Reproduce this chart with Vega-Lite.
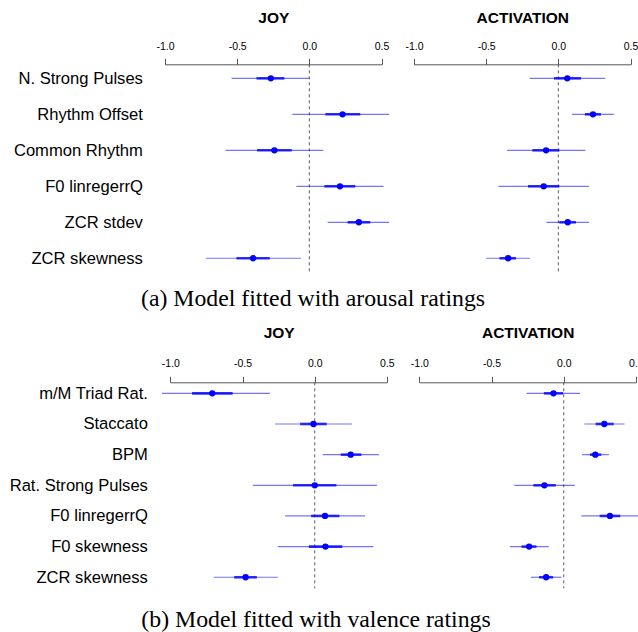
{
  "$schema": "https://vega.github.io/schema/vega-lite/v6.json",
  "padding": {"left": 9, "top": 10.3, "right": 0, "bottom": 0},
  "columns": 2,
  "bounds": "flush",
  "align": "all",
  "spacing": {"row": 110, "column": 5},
  "resolve": {"scale": {"x": "independent", "y": "independent"}},
  "datasets": {
    "joy_a": [
      {"var": "N. Strong Pulses", "est": -0.267, "lo1": -0.366, "hi1": -0.173, "lo2": -0.539, "hi2": 0.0},
      {"var": "Rhythm Offset", "est": 0.230, "lo1": 0.111, "hi1": 0.353, "lo2": -0.118, "hi2": 0.553},
      {"var": "Common Rhythm", "est": -0.242, "lo1": -0.362, "hi1": -0.122, "lo2": -0.581, "hi2": 0.097},
      {"var": "F0 linregerrQ", "est": 0.212, "lo1": 0.104, "hi1": 0.318, "lo2": -0.090, "hi2": 0.514},
      {"var": "ZCR stdev", "est": 0.343, "lo1": 0.265, "hi1": 0.422, "lo2": 0.127, "hi2": 0.553},
      {"var": "ZCR skewness", "est": -0.389, "lo1": -0.505, "hi1": -0.274, "lo2": -0.717, "hi2": -0.058}
    ],
    "act_a": [
      {"var": "N. Strong Pulses", "est": 0.062, "lo1": -0.030, "hi1": 0.157, "lo2": -0.198, "hi2": 0.325},
      {"var": "Rhythm Offset", "est": 0.240, "lo1": 0.184, "hi1": 0.295, "lo2": 0.094, "hi2": 0.385},
      {"var": "Common Rhythm", "est": -0.085, "lo1": -0.180, "hi1": 0.007, "lo2": -0.355, "hi2": 0.187},
      {"var": "F0 linregerrQ", "est": -0.101, "lo1": -0.210, "hi1": 0.007, "lo2": -0.415, "hi2": 0.212},
      {"var": "ZCR stdev", "est": 0.065, "lo1": 0.007, "hi1": 0.122, "lo2": -0.083, "hi2": 0.212},
      {"var": "ZCR skewness", "est": -0.348, "lo1": -0.408, "hi1": -0.293, "lo2": -0.500, "hi2": -0.198}
    ],
    "joy_b": [
      {"var": "m/M Triad Rat.", "est": -0.710, "lo1": -0.850, "hi1": -0.569, "lo2": -1.058, "hi2": -0.311},
      {"var": "Staccato", "est": -0.009, "lo1": -0.101, "hi1": 0.083, "lo2": -0.274, "hi2": 0.258},
      {"var": "BPM", "est": 0.249, "lo1": 0.180, "hi1": 0.323, "lo2": 0.055, "hi2": 0.445},
      {"var": "Rat. Strong Pulses", "est": 0.0, "lo1": -0.150, "hi1": 0.150, "lo2": -0.429, "hi2": 0.431},
      {"var": "F0 linregerrQ", "est": 0.071, "lo1": -0.025, "hi1": 0.171, "lo2": -0.205, "hi2": 0.348},
      {"var": "F0 skewness", "est": 0.074, "lo1": -0.041, "hi1": 0.191, "lo2": -0.256, "hi2": 0.406},
      {"var": "ZCR skewness", "est": -0.479, "lo1": -0.558, "hi1": -0.401, "lo2": -0.700, "hi2": -0.256}
    ],
    "act_b": [
      {"var": "m/M Triad Rat.", "est": -0.071, "lo1": -0.138, "hi1": -0.005, "lo2": -0.258, "hi2": 0.113},
      {"var": "Staccato", "est": 0.281, "lo1": 0.221, "hi1": 0.346, "lo2": 0.143, "hi2": 0.422},
      {"var": "BPM", "est": 0.219, "lo1": 0.182, "hi1": 0.260, "lo2": 0.127, "hi2": 0.313},
      {"var": "Rat. Strong Pulses", "est": -0.134, "lo1": -0.210, "hi1": -0.055, "lo2": -0.343, "hi2": 0.076},
      {"var": "F0 linregerrQ", "est": 0.320, "lo1": 0.249, "hi1": 0.392, "lo2": 0.122, "hi2": 0.520},
      {"var": "F0 skewness", "est": -0.240, "lo1": -0.293, "hi1": -0.189, "lo2": -0.373, "hi2": -0.104},
      {"var": "ZCR skewness", "est": -0.122, "lo1": -0.171, "hi1": -0.074, "lo2": -0.228, "hi2": -0.016}
    ]
  },
  "concat": [
    {
      "width": 244, "height": 208,
      "title": {"text": "(a) Model fitted with arousal ratings", "orient": "bottom", "anchor": "middle", "frame": "group", "dx": 41, "offset": 14, "font": "Liberation Serif", "fontSize": 23.8, "fontWeight": "normal", "color": "black"},
      "layer": [
        {
          "data": {"values": [{"zero": 0}]},
          "mark": {"type": "rule", "color": "#5a5a5a", "strokeDash": [3, 3], "strokeWidth": 1},
          "encoding": {"x": {"field": "zero", "type": "quantitative"}}
        },
        {
          "data": {"name": "joy_a"},
          "mark": {"type": "rule", "color": "#0000ff", "strokeWidth": 1.2, "opacity": 0.55},
          "encoding": {
            "x": {"field": "lo2", "type": "quantitative", "scale": {"domain": [-1, 0.5], "range": [15, 231.5], "nice": false, "zero": false},
              "axis": {"orient": "top", "values": [-1, -0.5, 0, 0.5], "labelExpr": "datum.value < 0 ? '-' + format(-datum.value, '.1f') : format(datum.value, '.1f')", "title": "JOY", "titleFont": "Liberation Sans", "titleFontSize": 15.5, "titleFontWeight": "bold", "titleColor": "black", "titlePadding": 15.7, "labelFont": "Liberation Sans", "labelFontSize": 10.5, "labelColor": "black", "labelPadding": 7, "tickSize": 6, "tickColor": "#555555", "domainColor": "#555555", "grid": false, "labelFlush": false, "labelOverlap": false}},
            "x2": {"field": "hi2"},
            "y": {"field": "var", "type": "nominal", "sort": null, "scale": {"type": "point", "padding": 0.39},
              "axis": {"title": null, "domain": false, "ticks": false, "tickSize": 0, "labelPadding": 7.6, "labelFont": "Liberation Sans", "labelFontSize": 16.6, "labelColor": "black", "grid": false}}
          }
        },
        {
          "data": {"name": "joy_a"},
          "mark": {"type": "rule", "color": "#0000ff", "strokeWidth": 2.6, "opacity": 0.8},
          "encoding": {"x": {"field": "lo1", "type": "quantitative"}, "x2": {"field": "hi1"}, "y": {"field": "var", "type": "nominal", "sort": null}}
        },
        {
          "data": {"name": "joy_a"},
          "mark": {"type": "point", "filled": true, "color": "#0000ff", "opacity": 1, "size": 40},
          "encoding": {"x": {"field": "est", "type": "quantitative"}, "y": {"field": "var", "type": "nominal", "sort": null}}
        }
      ]
    },
    {
      "width": 244, "height": 208,
      "layer": [
        {
          "data": {"values": [{"zero": 0}]},
          "mark": {"type": "rule", "color": "#5a5a5a", "strokeDash": [3, 3], "strokeWidth": 1},
          "encoding": {"x": {"field": "zero", "type": "quantitative"}}
        },
        {
          "data": {"name": "act_a"},
          "mark": {"type": "rule", "color": "#0000ff", "strokeWidth": 1.2, "opacity": 0.55},
          "encoding": {
            "x": {"field": "lo2", "type": "quantitative", "scale": {"domain": [-1, 0.5], "range": [15, 231.5], "nice": false, "zero": false},
              "axis": {"orient": "top", "values": [-1, -0.5, 0, 0.5], "labelExpr": "datum.value < 0 ? '-' + format(-datum.value, '.1f') : format(datum.value, '.1f')", "title": "ACTIVATION", "titleFont": "Liberation Sans", "titleFontSize": 15.5, "titleFontWeight": "bold", "titleColor": "black", "titlePadding": 15.7, "labelFont": "Liberation Sans", "labelFontSize": 10.5, "labelColor": "black", "labelPadding": 7, "tickSize": 6, "tickColor": "#555555", "domainColor": "#555555", "grid": false, "labelFlush": false, "labelOverlap": false}},
            "x2": {"field": "hi2"},
            "y": {"field": "var", "type": "nominal", "sort": null, "scale": {"type": "point", "padding": 0.39}, "axis": null}
          }
        },
        {
          "data": {"name": "act_a"},
          "mark": {"type": "rule", "color": "#0000ff", "strokeWidth": 2.6, "opacity": 0.8},
          "encoding": {"x": {"field": "lo1", "type": "quantitative"}, "x2": {"field": "hi1"}, "y": {"field": "var", "type": "nominal", "sort": null}}
        },
        {
          "data": {"name": "act_a"},
          "mark": {"type": "point", "filled": true, "color": "#0000ff", "opacity": 1, "size": 40},
          "encoding": {"x": {"field": "est", "type": "quantitative"}, "y": {"field": "var", "type": "nominal", "sort": null}}
        }
      ]
    },
    {
      "width": 244, "height": 206,
      "title": {"text": "(b) Model fitted with valence ratings", "orient": "bottom", "anchor": "middle", "frame": "group", "dx": 44, "offset": 19, "font": "Liberation Serif", "fontSize": 23.8, "fontWeight": "normal", "color": "black"},
      "layer": [
        {
          "data": {"values": [{"zero": 0}]},
          "mark": {"type": "rule", "color": "#5a5a5a", "strokeDash": [3, 3], "strokeWidth": 1},
          "encoding": {"x": {"field": "zero", "type": "quantitative"}}
        },
        {
          "data": {"name": "joy_b"},
          "mark": {"type": "rule", "color": "#0000ff", "strokeWidth": 1.2, "opacity": 0.55},
          "encoding": {
            "x": {"field": "lo2", "type": "quantitative", "scale": {"domain": [-1, 0.5], "range": [20.4, 236.9], "nice": false, "zero": false},
              "axis": {"orient": "top", "values": [-1, -0.5, 0, 0.5], "labelExpr": "datum.value < 0 ? '-' + format(-datum.value, '.1f') : format(datum.value, '.1f')", "title": "JOY", "titleFont": "Liberation Sans", "titleFontSize": 15.5, "titleFontWeight": "bold", "titleColor": "black", "titlePadding": 17.4, "labelFont": "Liberation Sans", "labelFontSize": 10.5, "labelColor": "black", "labelPadding": 8, "tickSize": 6, "tickColor": "#555555", "domainColor": "#555555", "grid": false, "labelFlush": false, "labelOverlap": false}},
            "x2": {"field": "hi2"},
            "y": {"field": "var", "type": "nominal", "sort": null, "scale": {"type": "point", "padding": 0.36},
              "axis": {"title": null, "domain": false, "ticks": false, "tickSize": 0, "labelPadding": 2.6, "labelFont": "Liberation Sans", "labelFontSize": 16.6, "labelColor": "black", "grid": false}}
          }
        },
        {
          "data": {"name": "joy_b"},
          "mark": {"type": "rule", "color": "#0000ff", "strokeWidth": 2.6, "opacity": 0.8},
          "encoding": {"x": {"field": "lo1", "type": "quantitative"}, "x2": {"field": "hi1"}, "y": {"field": "var", "type": "nominal", "sort": null}}
        },
        {
          "data": {"name": "joy_b"},
          "mark": {"type": "point", "filled": true, "color": "#0000ff", "opacity": 1, "size": 40},
          "encoding": {"x": {"field": "est", "type": "quantitative"}, "y": {"field": "var", "type": "nominal", "sort": null}}
        }
      ]
    },
    {
      "width": 244, "height": 206,
      "layer": [
        {
          "data": {"values": [{"zero": 0}]},
          "mark": {"type": "rule", "color": "#5a5a5a", "strokeDash": [3, 3], "strokeWidth": 1},
          "encoding": {"x": {"field": "zero", "type": "quantitative"}}
        },
        {
          "data": {"name": "act_b"},
          "mark": {"type": "rule", "color": "#0000ff", "strokeWidth": 1.2, "opacity": 0.55},
          "encoding": {
            "x": {"field": "lo2", "type": "quantitative", "scale": {"domain": [-1, 0.5], "range": [20.4, 236.9], "nice": false, "zero": false},
              "axis": {"orient": "top", "values": [-1, -0.5, 0, 0.5], "labelExpr": "datum.value < 0 ? '-' + format(-datum.value, '.1f') : format(datum.value, '.1f')", "title": "ACTIVATION", "titleFont": "Liberation Sans", "titleFontSize": 15.5, "titleFontWeight": "bold", "titleColor": "black", "titlePadding": 17.4, "labelFont": "Liberation Sans", "labelFontSize": 10.5, "labelColor": "black", "labelPadding": 8, "tickSize": 6, "tickColor": "#555555", "domainColor": "#555555", "grid": false, "labelFlush": false, "labelOverlap": false}},
            "x2": {"field": "hi2"},
            "y": {"field": "var", "type": "nominal", "sort": null, "scale": {"type": "point", "padding": 0.36}, "axis": null}
          }
        },
        {
          "data": {"name": "act_b"},
          "mark": {"type": "rule", "color": "#0000ff", "strokeWidth": 2.6, "opacity": 0.8},
          "encoding": {"x": {"field": "lo1", "type": "quantitative"}, "x2": {"field": "hi1"}, "y": {"field": "var", "type": "nominal", "sort": null}}
        },
        {
          "data": {"name": "act_b"},
          "mark": {"type": "point", "filled": true, "color": "#0000ff", "opacity": 1, "size": 40},
          "encoding": {"x": {"field": "est", "type": "quantitative"}, "y": {"field": "var", "type": "nominal", "sort": null}}
        }
      ]
    }
  ],
  "config": {"view": {"stroke": null}, "font": "Liberation Sans"}
}
